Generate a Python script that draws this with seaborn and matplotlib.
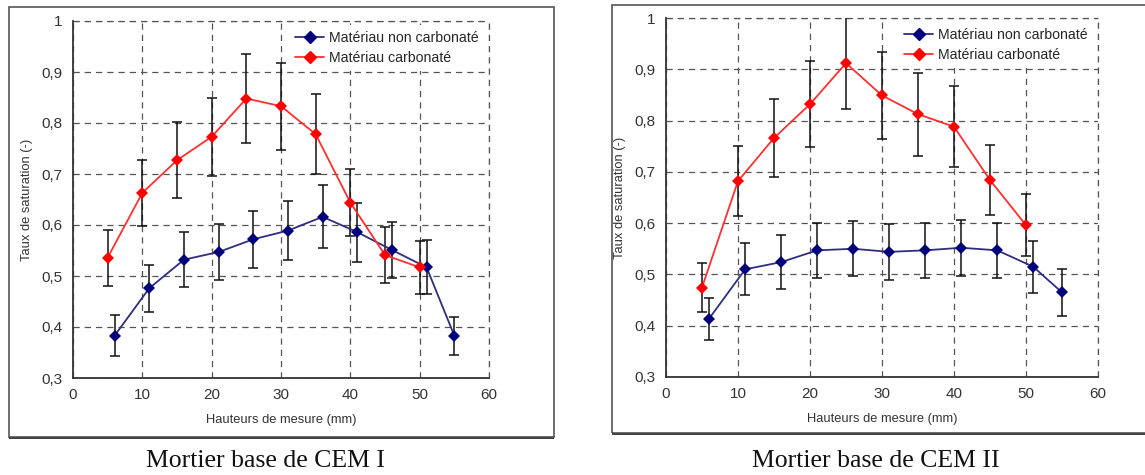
import numpy as np
import pandas as pd
import matplotlib
matplotlib.use("Agg")
import matplotlib.pyplot as plt
from matplotlib.patches import Rectangle
from matplotlib.lines import Line2D
import seaborn as sns

# ---- data ----
series_names = ["Matériau non carbonaté", "Matériau carbonaté"]

x_non = [6, 11, 16, 21, 26, 31, 36, 41, 46, 51, 55]
x_carb = [5, 10, 15, 20, 25, 30, 35, 40, 45, 50]

cem1_non = [0.383, 0.476, 0.532, 0.547, 0.572, 0.589, 0.616, 0.586, 0.551, 0.517, 0.383]
cem1_non_err = [0.040, 0.046, 0.054, 0.055, 0.056, 0.058, 0.062, 0.058, 0.055, 0.053, 0.037]
cem1_carb = [0.536, 0.663, 0.727, 0.773, 0.848, 0.833, 0.778, 0.644, 0.541, 0.517]
cem1_carb_err = [0.055, 0.065, 0.074, 0.076, 0.087, 0.085, 0.078, 0.065, 0.055, 0.052]

cem2_non = [0.414, 0.510, 0.524, 0.547, 0.550, 0.544, 0.547, 0.552, 0.547, 0.515, 0.465]
cem2_non_err = [0.041, 0.051, 0.053, 0.054, 0.054, 0.054, 0.054, 0.055, 0.054, 0.051, 0.046]
cem2_carb = [0.4745, 0.682, 0.766, 0.832, 0.912, 0.849, 0.8125, 0.788, 0.684, 0.596]
cem2_carb_err = [0.048, 0.068, 0.077, 0.084, 0.090, 0.084, 0.081, 0.079, 0.068, 0.060]

x_ticks = [0, 10, 20, 30, 40, 50, 60]
y_ticks = [0.3, 0.4, 0.5, 0.6, 0.7, 0.8, 0.9, 1.0]
y_tick_labels = ["0,3", "0,4", "0,5", "0,6", "0,7", "0,8", "0,9", "1"]
x_label = "Hauteurs de mesure (mm)"
y_label = "Taux de saturation (-)"
captions = ["Mortier base de CEM I", "Mortier base de CEM II"]

# ---- style ----
sns.set_theme(style="white")
plt.rcParams["font.family"] = ["Liberation Sans", "DejaVu Sans"]

line_colors = {series_names[0]: "#2e2e80", series_names[1]: "#ff3030"}
marker_colors = {series_names[0]: "#00007a", series_names[1]: "#ff0000"}

fig = plt.figure(figsize=(11.45, 4.75), dpi=100)
W, H = 1145, 475

def fr(x0, y_top, x1, y_bot):
    return [x0 / W, (H - y_bot) / H, (x1 - x0) / W, (y_bot - y_top) / H]

# panel frames
for (x0, yt, x1, yb) in [(9, 7, 554, 437), (612, 5, 1160, 433)]:
    fig.patches.append(Rectangle((x0 / W, (H - yb) / H), (x1 - x0) / W, (yb - yt) / H,
                                 transform=fig.transFigure, fill=False,
                                 edgecolor="#555555", lw=1.2, zorder=0))
    fig.patches.append(Rectangle((x0 / W, (H - yb - 1.5) / H), (x1 - x0) / W, 1.5 / H,
                                 transform=fig.transFigure, fill=True,
                                 facecolor="#444444", edgecolor="none", zorder=0))

axes_pos = [fr(73, 21, 489, 378), fr(666, 18, 1098, 377)]
datasets = [
    (cem1_non, cem1_non_err, cem1_carb, cem1_carb_err),
    (cem2_non, cem2_non_err, cem2_carb, cem2_carb_err),
]
caption_x = [265, 876]
grid_kw = dict(color="#555555", linestyle=(0, (5, 4)), lw=0.9)

for i, (pos, (yn, en, yc, ec)) in enumerate(zip(axes_pos, datasets)):
    ax = fig.add_axes(pos)
    df = pd.concat([
        pd.DataFrame({"x": x_non, "y": yn, "serie": series_names[0]}),
        pd.DataFrame({"x": x_carb, "y": yc, "serie": series_names[1]}),
    ])
    sns.lineplot(data=df, x="x", y="y", hue="serie", hue_order=series_names,
                 palette=line_colors, marker="D", markersize=6, lw=1.3,
                 markeredgewidth=0, ax=ax, zorder=4, legend=False)
    for line, name in zip(ax.get_lines(), series_names):
        line.set_markerfacecolor(marker_colors[name])
        line.set_markeredgecolor(marker_colors[name])
    ax.errorbar(x_non, yn, yerr=en, fmt="none", ecolor="#111111", elinewidth=1.1,
                capsize=3.5, capthick=1.1, zorder=3)
    ax.errorbar(x_carb, yc, yerr=ec, fmt="none", ecolor="#111111", elinewidth=1.1,
                capsize=3.5, capthick=1.1, zorder=3)

    ax.set_xlim(0, 60)
    ax.set_ylim(0.3, 1.0)
    ax.set_xticks(x_ticks)
    ax.set_yticks(y_ticks)
    ax.set_yticklabels(y_tick_labels)
    ax.tick_params(axis="both", direction="inout", length=7, width=1, color="#333333",
                   labelsize=11, labelcolor="#333333", pad=4)
    ax.grid(True, **grid_kw)
    ax.axhline(1.0, clip_on=False, zorder=1, **grid_kw)
    ax.axvline(60, clip_on=False, zorder=1, **grid_kw)
    for s in ["top", "right"]:
        ax.spines[s].set_visible(False)
    for s in ["left", "bottom"]:
        ax.spines[s].set_color("#333333")
        ax.spines[s].set_linewidth(1.3)
    ax.set_xlabel(x_label, fontsize=9.3, color="#333333", labelpad=8)
    ax.set_ylabel(y_label, fontsize=9.3, color="#333333", labelpad=6)

    handles = [Line2D([], [], color=line_colors[n], marker="D", markersize=6,
                      markerfacecolor=marker_colors[n], markeredgecolor=marker_colors[n], lw=1.3)
               for n in series_names]
    leg = ax.legend(handles, series_names, loc="upper right", frameon=True,
                    fontsize=10.2, handlelength=2.0, handletextpad=0.4,
                    borderaxespad=0.3, labelspacing=0.45, fancybox=False,
                    facecolor="white", edgecolor="none", framealpha=1)
    leg.set_zorder(5)

    fig.text(caption_x[i] / W, (H - 461) / H, captions[i], ha="center", va="center",
             fontsize=18.5, family=["Liberation Serif", "DejaVu Serif"], color="#111111")

fig.savefig("out.png", dpi=100)
